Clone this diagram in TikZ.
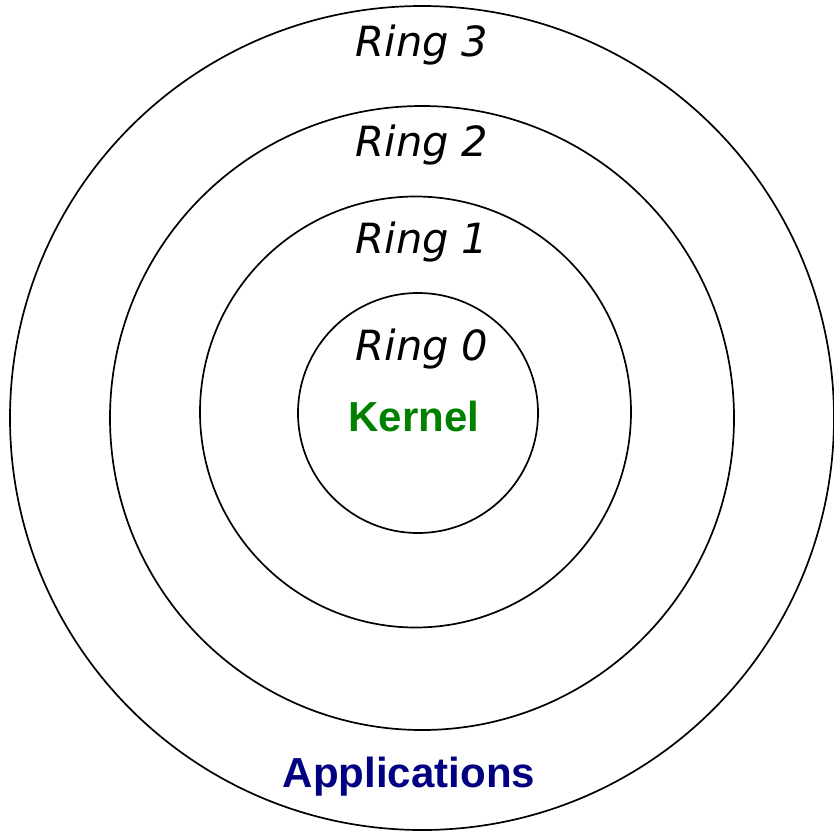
\documentclass[tikz,border=0pt]{standalone}
\usepackage{fontspec}
\setmainfont{DejaVu Sans}
\newfontfamily\boldsans{Liberation Sans}
\definecolor{kernelgreen}{RGB}{0,128,0}
\definecolor{appnavy}{RGB}{0,0,128}
\begin{document}
\begin{tikzpicture}[x=1pt,y=-1pt,
  ring/.style={draw=black,line width=1.7pt,circle,inner sep=0pt},
  ringlabel/.style={anchor=base,inner sep=0pt,font=\fontsize{41.6}{42}\selectfont\itshape},
  layerlabel/.style={anchor=base,inner sep=0pt,font=\fontsize{42}{42}\selectfont\boldsans\bfseries}]
  \useasboundingbox (0,0) rectangle (834,832);
  % concentric protection rings
  \node[ring,minimum size=824pt] (r3) at (422,418) {};
  \node[ring,minimum size=624pt] (r2) at (422,418) {};
  \node[ring,minimum size=431pt] (r1) at (415.5,412) {};
  \node[ring,minimum size=240pt] (r0) at (418,413) {};
  % ring names
  \node[ringlabel] (t3) at (422,57) {Ring 3};
  \node[ringlabel] (t2) at (422,156) {Ring 2};
  \node[ringlabel] (t1) at (422,253) {Ring 1};
  \node[ringlabel] (t0) at (422,360) {Ring 0};
  % what runs where
  \node[layerlabel,text=kernelgreen] (kern) at (414,431) {Kernel};
  \node[layerlabel,text=appnavy] (apps) at (409,787) {Applications};
\end{tikzpicture}
\end{document}
